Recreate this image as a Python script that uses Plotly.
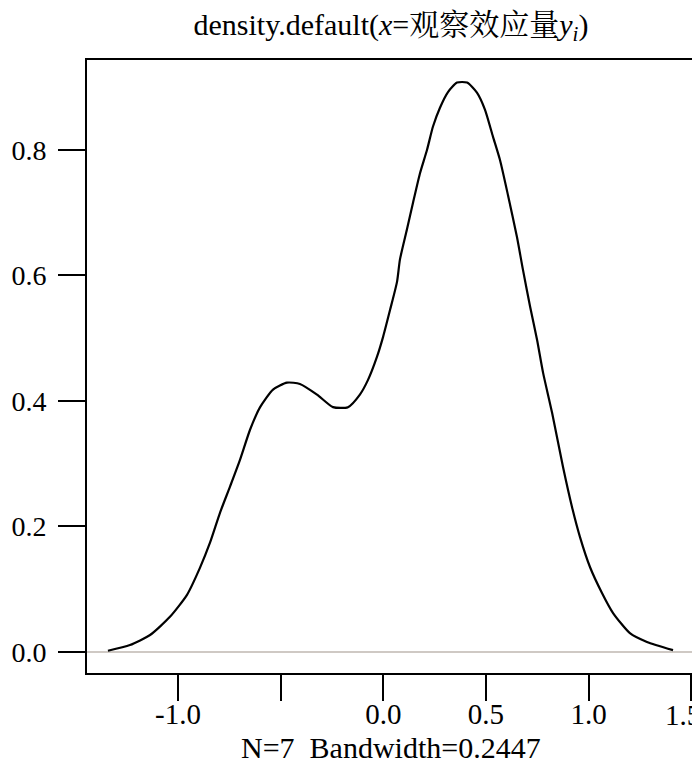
import plotly.graph_objects as go

# Density curve
dens_x = [-1.341, -1.234, -1.136, -1.039, -0.956, -0.893, -0.844, -0.795, -0.747, -0.698,
          -0.649, -0.600, -0.537, -0.469, -0.406, -0.323, -0.245, -0.172, -0.114, -0.075,
          -0.031, -0.001, 0.033, 0.067, 0.081, 0.115, 0.145, 0.179, 0.213, 0.242,
          0.276, 0.315, 0.359, 0.408, 0.456, 0.495, 0.534, 0.568, 0.607, 0.651,
          0.680, 0.715, 0.749, 0.778, 0.822, 0.875, 0.919, 0.958, 1.007, 1.065,
          1.119, 1.201, 1.284, 1.411]
dens_y = [0.002, 0.011, 0.027, 0.056, 0.091, 0.134, 0.174, 0.222, 0.263, 0.306,
          0.354, 0.390, 0.418, 0.429, 0.427, 0.410, 0.390, 0.390, 0.410, 0.433,
          0.470, 0.502, 0.545, 0.590, 0.625, 0.673, 0.716, 0.763, 0.800, 0.837,
          0.867, 0.892, 0.907, 0.907, 0.891, 0.864, 0.821, 0.784, 0.728, 0.661,
          0.609, 0.550, 0.497, 0.445, 0.381, 0.295, 0.231, 0.183, 0.135, 0.094,
          0.062, 0.030, 0.016, 0.003]

x_ticks = [-1.0, -0.5, 0.0, 0.5, 1.0, 1.5]
x_tick_labels = ["-1.0", "", "0.0", "0.5", "1.0", ""]
edge_tick_value = 1.5
edge_tick_label = "1.5"
y_ticks = [0.0, 0.2, 0.4, 0.6, 0.8]
y_tick_labels = ["0.0", "0.2", "0.4", "0.6", "0.8"]

title_text = "density.default(<i>x</i>=观察效应量<i>y<sub>i</sub></i>)"
xlabel_text = "N=7  Bandwidth=0.2447"

FONT = "Liberation Serif, Noto Serif CJK SC, Noto Sans CJK SC, serif"

fig = go.Figure()
fig.add_trace(go.Scatter(x=[-1.443, 1.518], y=[0, 0], mode="lines",
                         line=dict(color="#cfc9c4", width=2), hoverinfo="skip",
                         showlegend=False))
fig.add_trace(go.Scatter(x=dens_x, y=dens_y, mode="lines",
                         line=dict(color="black", width=2.2, shape="spline", smoothing=0.6),
                         showlegend=False))

fig.update_layout(
    width=700, height=772,
    margin=dict(l=79, r=13, t=52, b=107, autoexpand=False),
    paper_bgcolor="white", plot_bgcolor="white",
    font=dict(family=FONT, size=29, color="black"),
    title=dict(text=title_text, x=0.5, xref="paper", xanchor="center",
               y=1 - 16 / 772, yref="container", yanchor="middle",
               font=dict(family=FONT, size=30, color="black")),
    xaxis=dict(range=[-1.443, 1.518], tickvals=x_ticks, ticktext=x_tick_labels,
               showgrid=False, zeroline=False, showline=True, mirror=True,
               linecolor="black", linewidth=2, ticks="outside", ticklen=26,
               tickwidth=2, tickcolor="black", ticklabelstandoff=-12,
               tickfont=dict(family=FONT, size=29, color="black"),
               automargin=False, ticklabeloverflow="allow"),
    yaxis=dict(range=[-0.0335, 0.943], tickvals=y_ticks, ticktext=y_tick_labels,
               showgrid=False, zeroline=False, showline=True, mirror=True,
               linecolor="black", linewidth=2, ticks="outside", ticklen=27,
               tickwidth=2, tickcolor="black", ticklabelstandoff=6,
               tickfont=dict(family=FONT, size=28, color="black"),
               automargin=False, ticklabeloverflow="allow"),
    annotations=[
        dict(text=xlabel_text, x=0.5, xref="paper", xanchor="center",
             y=-(739 - 665) / 613, yref="paper", yanchor="middle",
             showarrow=False, font=dict(family=FONT, size=30, color="black")),
        dict(text=edge_tick_label, x=edge_tick_value, xref="x", xanchor="center",
             xshift=-8, y=-(707 - 665) / 613, yref="paper", yanchor="middle",
             showarrow=False, font=dict(family=FONT, size=29, color="black")),
    ],
)

fig.write_html("out.html")
